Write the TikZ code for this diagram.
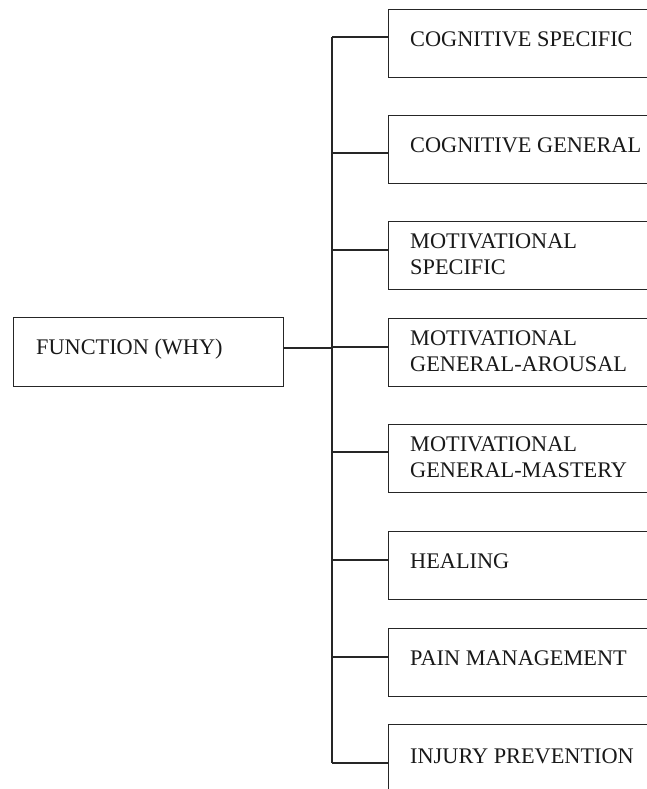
\documentclass[tikz,border=0pt]{standalone}
\usepackage{fontspec}
\setmainfont{Liberation Serif}
\begin{document}
\begin{tikzpicture}[x=1pt,y=-1pt,
  frame/.style={draw=black!85, line width=1.2pt, rectangle, inner sep=0pt, anchor=north west, minimum height=68pt},
  rbox/.style={frame, minimum width=320pt},
  lbl/.style={inner sep=0pt, anchor=base west, align=left, font=\fontsize{22.3}{26}\selectfont, text=black!90},
  conn/.style={draw=black!85, line width=1.2pt}]
\clip (0,0) rectangle (647,789);
\fill[white] (0,0) rectangle (647,789);
% left box
\node[frame, minimum width=270pt, minimum height=69pt] (f) at (13,317) {};
\node[lbl] (ft) at ([shift={(23,37)}]f.north west) {FUNCTION (WHY)};
% right boxes
\node[rbox] (b1) at (388,9) {};
\node[rbox] (b2) at (388,115) {};
\node[rbox] (b3) at (388,221) {};
\node[rbox] (b4) at (388,318) {};
\node[rbox] (b5) at (388,424) {};
\node[rbox] (b6) at (388,531) {};
\node[rbox] (b7) at (388,628) {};
\node[rbox, minimum height=100pt] (b8) at (388,724) {};
\node[lbl] (t1) at ([shift={(22,38)}]b1.north west) {COGNITIVE SPECIFIC};
\node[lbl] (t2) at ([shift={(22,37)}]b2.north west) {COGNITIVE GENERAL};
\node[lbl] (t3) at ([shift={(22,53)}]b3.north west) {MOTIVATIONAL\\SPECIFIC};
\node[lbl] (t4) at ([shift={(22,53)}]b4.north west) {MOTIVATIONAL\\GENERAL-AROUSAL};
\node[lbl] (t5) at ([shift={(22,53)}]b5.north west) {MOTIVATIONAL\\GENERAL-MASTERY};
\node[lbl] (t6) at ([shift={(22,37)}]b6.north west) {HEALING};
\node[lbl] (t7) at ([shift={(22,37)}]b7.north west) {PAIN MANAGEMENT};
\node[lbl] (t8) at ([shift={(22,39)}]b8.north west) {INJURY PREVENTION};
% spine coordinates
\coordinate (s1) at (332,37);
\coordinate (s2) at (332,153);
\coordinate (s3) at (332,250);
\coordinate (s4) at (332,347);
\coordinate (s5) at (332,452);
\coordinate (s6) at (332,560);
\coordinate (s7) at (332,657);
\coordinate (s8) at (332,763);
\coordinate (sf) at (332,348);
\draw[conn] (s1) -- (s8);
\draw[conn] (f.east |- sf) -- (sf);
\foreach \i in {1,...,8} {\draw[conn] (s\i) -- (s\i -| b\i.west);}
\end{tikzpicture}
\end{document}
